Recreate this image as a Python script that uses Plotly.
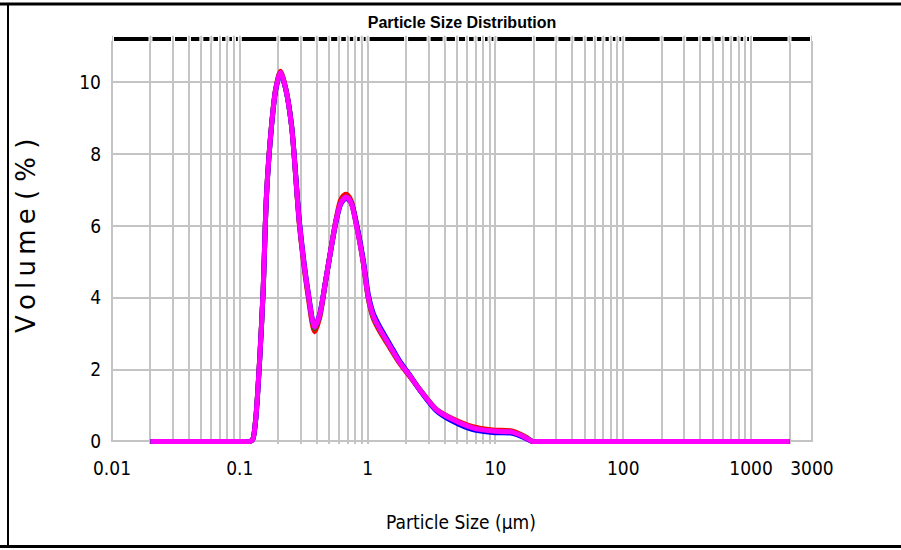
import plotly.graph_objects as go

# ---- data (particle size in µm, volume in %) ----
size_um = [0.02, 0.1, 0.12, 0.126, 0.133, 0.143, 0.152, 0.162, 0.177, 0.191,
           0.208, 0.229, 0.254, 0.294, 0.342, 0.385, 0.42, 0.476, 0.569, 0.62,
           0.68, 0.74, 0.822, 0.925, 1.012, 1.109, 1.251, 1.497, 1.794, 2.147,
           2.55, 3.44, 4.64, 6.65, 9.53, 13.6, 17.4, 19.5, 22, 30, 100, 1000, 2000]

vol_red = [0, 0, 0, 0.05, 0.62, 2.3, 4.15, 6.92, 8.8, 9.82,
           10.3, 9.82, 8.8, 5.95, 4.05, 3.05, 3.42, 4.6, 6.22, 6.75,
           6.88, 6.72, 6.02, 4.98, 3.98, 3.42, 3.05, 2.6, 2.16, 1.8,
           1.45, 0.9, 0.63, 0.41, 0.32, 0.29, 0.12, 0, 0, 0, 0, 0, 0]

vol_green = [0, 0, 0, 0.05, 0.6, 2.28, 4.14, 6.9, 8.78, 9.8,
             10.27, 9.8, 8.78, 6.0, 4.12, 3.14, 3.48, 4.6, 6.18, 6.66,
             6.8, 6.66, 5.98, 4.98, 4.0, 3.46, 3.1, 2.64, 2.19, 1.82,
             1.45, 0.89, 0.6, 0.37, 0.28, 0.25, 0.1, 0, 0, 0, 0, 0, 0]

vol_blue = [0, 0, 0, 0.05, 0.58, 2.25, 4.12, 6.88, 8.76, 9.78,
            10.24, 9.8, 8.8, 6.05, 4.18, 3.2, 3.52, 4.6, 6.15, 6.62,
            6.76, 6.66, 6.02, 5.05, 4.1, 3.56, 3.18, 2.7, 2.22, 1.84,
            1.44, 0.86, 0.56, 0.33, 0.25, 0.23, 0.08, 0, 0, 0, 0, 0, 0]

vol_magenta = [0, 0, 0, 0.05, 0.6, 2.28, 4.14, 6.9, 8.78, 9.8,
               10.27, 9.8, 8.78, 6.0, 4.14, 3.18, 3.5, 4.6, 6.18, 6.65,
               6.8, 6.65, 5.97, 4.98, 4.02, 3.49, 3.12, 2.65, 2.19, 1.82,
               1.45, 0.89, 0.61, 0.38, 0.29, 0.26, 0.1, 0, 0, 0, 0, 0, 0]

series = [("Run 1", vol_red, "#ff0000"),
          ("Run 2", vol_green, "#008000"),
          ("Run 3", vol_blue, "#0000ff"),
          ("Run 4", vol_magenta, "#ff00ff")]

# ---- tick definitions ----
grid_vals = [m * 10 ** e for e in range(-2, 3) for m in range(1, 10)] + [1000, 2000, 3000]
label_map = {0.01: "0.01", 0.1: "0.1", 1: "1", 10: "10", 100: "100", 1000: "1000", 3000: "3000"}
x_ticktext = []
for v in grid_vals:
    txt = ""
    for k, t in label_map.items():
        if abs(k - v) < 1e-9:
            txt = t
    x_ticktext.append(txt)

y_tickvals = [0, 2, 4, 6, 8, 10]
y_ticktext = ["0", "2", "4", "6", "8", "10"]

NARROW = "DejaVu Sans Condensed, Liberation Sans Narrow, Liberation Sans, Arial, sans-serif"
GRID = "#c4c4c4"

fig = go.Figure()
for name, ys, col in series:
    fig.add_trace(go.Scatter(
        x=size_um, y=ys, mode="lines", name=name,
        line=dict(color=col, width=5, shape="spline", smoothing=0.8),
        showlegend=False, hoverinfo="x+y"))

fig.update_layout(
    width=901, height=550,
    margin=dict(l=112, r=89, t=39, b=106),
    paper_bgcolor="white", plot_bgcolor="white",
    title=dict(text="<b>Particle Size Distribution</b>", x=0.5, xref="paper",
               y=1 - 22 / 550, yanchor="middle",
               font=dict(family="Liberation Sans, Arial, sans-serif", size=16, color="black")),
    showlegend=False,
)

fig.update_xaxes(
    type="log", range=[-2, 3.4771],
    tickmode="array", tickvals=grid_vals, ticktext=x_ticktext,
    showgrid=True, gridcolor=GRID, gridwidth=2,
    showline=False, zeroline=False, ticks="",
    ticklabelstandoff=11,
    tickfont=dict(family=NARROW, size=19, color="black"),
)
fig.update_yaxes(
    range=[-0.07, 11.2],
    tickmode="array", tickvals=y_tickvals, ticktext=y_ticktext,
    showgrid=True, gridcolor=GRID, gridwidth=2,
    zeroline=True, zerolinecolor=GRID, zerolinewidth=2,
    showline=False, ticks="",
    ticklabelstandoff=10,
    tickfont=dict(family=NARROW, size=19, color="black"),
)

# axis titles
fig.add_annotation(text="Particle Size (µm)", xref="paper", yref="paper",
                   x=(461 - 112) / 700, y=(444 - 522) / 405, xanchor="center", yanchor="middle",
                   showarrow=False, font=dict(family=NARROW, size=19, color="black"))
fig.add_annotation(text="V\u2009o\u2009l\u2009u\u2009m\u2009e ( % )", xref="paper", yref="paper",
                   x=(26 - 112) / 700, y=(444 - 236) / 405, textangle=-90,
                   xanchor="center", yanchor="middle", showarrow=False,
                   font=dict(family="DejaVu Sans, Verdana, sans-serif", size=26, color="black"))

# plot frame pieces: black top edge crossed by the gray grid, gray side edges
fig.add_shape(type="line", xref="paper", yref="paper", x0=0, x1=1, y0=1, y1=1,
              line=dict(color="black", width=4))
for v in grid_vals:
    fig.add_shape(type="line", xref="x", yref="paper", x0=v, x1=v, y0=0.99, y1=1.008,
                  line=dict(color="white", width=4))
    fig.add_shape(type="line", xref="x", yref="paper", x0=v, x1=v, y0=0.99, y1=1.008,
                  line=dict(color=GRID, width=2))
fig.add_shape(type="line", xref="paper", yref="paper", x0=1, x1=1, y0=(444 - 442) / 405, y1=0.995,
              line=dict(color=GRID, width=2))
fig.add_shape(type="line", xref="paper", yref="paper", x0=0, x1=0, y0=(444 - 442) / 405, y1=0.995,
              line=dict(color=GRID, width=2))

# outer image border
fig.add_shape(type="line", xref="paper", yref="paper",
              x0=-112 / 700, x1=789 / 700, y0=(444 - 4) / 405, y1=(444 - 4) / 405,
              line=dict(color="black", width=3))
fig.add_shape(type="line", xref="paper", yref="paper",
              x0=-112 / 700, x1=789 / 700, y0=(444 - 546.5) / 405, y1=(444 - 546.5) / 405,
              line=dict(color="black", width=3))
fig.add_shape(type="line", xref="paper", yref="paper",
              x0=(8 - 112) / 700, x1=(8 - 112) / 700, y0=(444 - 4) / 405, y1=(444 - 546.5) / 405,
              line=dict(color="black", width=2))

fig.write_html("out.html", config={"displayModeBar": False},
               post_script="document.body.style.margin='0';document.body.style.overflow='hidden';")
